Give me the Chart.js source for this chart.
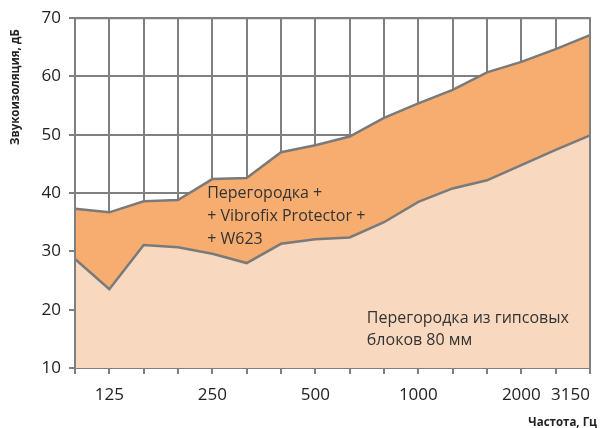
<!DOCTYPE html>
<html lang="ru">
<head>
<meta charset="utf-8">
<title>Звукоизоляция</title>
<script src="https://cdn.jsdelivr.net/npm/chart.js@4/dist/chart.umd.min.js"></script>
<style>
    html, body { margin: 0; padding: 0; background: #fff; }
    #wrap { width: 603px; height: 428px; position: relative; }
</style>
</head>
<body>
<div id="wrap"><canvas id="chart"></canvas></div>
<script>
// Data
const frequencies = ['100', '125', '160', '200', '250', '315', '400', '500', '630', '800', '1000', '1250', '1600', '2000', '2500', '3150'];
const shownLabels = ['125', '250', '500', '1000', '2000', '3150'];
const wallOnly = [28.7, 23.5, 31.1, 30.7, 29.6, 28.0, 31.3, 32.1, 32.4, 35.0, 38.5, 40.8, 42.2, 44.8, 47.4, 49.9];
const wallWithVibrofix = [37.3, 36.7, 38.6, 38.8, 42.4, 42.6, 47.0, 48.2, 49.7, 52.9, 55.4, 57.7, 60.7, 62.5, 64.7, 67.1];
const yTicks = [10, 20, 30, 40, 50, 60, 70];

const GRID = '#808080';
const FONT = '"Open Sans", "Noto Sans", sans-serif';

// Frame, axis titles and text labels inside the areas
const areaLabels = {
    id: 'areaLabels',
    afterDatasetsDraw(chart) {
        const { ctx, scales: { x, y } } = chart;
        const area = chart.chartArea;

        // frame over the fills
        ctx.save();
        ctx.strokeStyle = GRID;
        ctx.lineWidth = 2;
        ctx.beginPath();
        ctx.moveTo(area.left, area.bottom);
        ctx.lineTo(area.left, area.top);
        ctx.lineTo(area.right, area.top);
        ctx.lineTo(area.right, area.bottom);
        ctx.stroke();

        ctx.fillStyle = '#333';
        ctx.font = '16px ' + FONT;
        ctx.textBaseline = 'middle';
        ctx.textAlign = 'left';
        const x1 = x.getPixelForValue(3.85);
        ['Перегородка +', '+ Vibrofix Protector +', '+ W623'].forEach((line, i) => {
            ctx.fillText(line, x1, y.getPixelForValue(39.9) + i * 23);
        });
        const x2 = x.getPixelForValue(8.5);
        ['Перегородка из гипсовых', 'блоков 80 мм'].forEach((line, i) => {
            ctx.fillText(line, x2, y.getPixelForValue(18.5) + i * 22);
        });

        // axis titles
        ctx.fillStyle = '#222';
        ctx.font = 'bold 11.5px ' + FONT;
        ctx.textAlign = 'right';
        ctx.fillText('Частота, Гц', 597, 423);

        ctx.translate(16, 145);
        ctx.rotate(-Math.PI / 2);
        ctx.textAlign = 'left';
        ctx.fillText('Звукоизоляция, дБ', 0, 0);
        ctx.restore();
    }
};

const ctx = document.getElementById('chart').getContext('2d');
new Chart(ctx, {
    type: 'line',
    data: {
        labels: frequencies,
        datasets: [
            {
                label: 'Перегородка из гипсовых блоков 80 мм',
                data: wallOnly,
                borderColor: '#7a7a7a',
                borderWidth: 2.5,
                backgroundColor: '#f8d8be',
                fill: 'start',
                pointRadius: 0,
                tension: 0
            },
            {
                label: 'Перегородка + Vibrofix Protector + W623',
                data: wallWithVibrofix,
                borderColor: '#7a7a7a',
                borderWidth: 2.5,
                backgroundColor: '#f7ad70',
                fill: '-1',
                pointRadius: 0,
                tension: 0
            }
        ]
    },
    options: {
        responsive: true,
        maintainAspectRatio: false,
        animation: false,
        layout: { padding: { top: 18, right: 13, left: 0, bottom: 0 } },
        plugins: {
            legend: { display: false },
            tooltip: { enabled: false }
        },
        scales: {
            x: {
                offset: false,
                grid: { color: GRID, lineWidth: 2, tickLength: 6, tickColor: GRID },
                border: { color: GRID, width: 2 },
                ticks: {
                    autoSkip: false,
                    maxRotation: 0,
                    align: 'inner',
                    color: '#222',
                    padding: 11,
                    font: { family: FONT, size: 17 },
                    callback: function (value) {
                        const lab = frequencies[value];
                        return shownLabels.includes(lab) ? lab : '';
                    }
                },
                afterFit(scale) { scale.height = 60; }
            },
            y: {
                min: yTicks[0],
                max: yTicks[yTicks.length - 1],
                afterBuildTicks(scale) { scale.ticks = yTicks.map(v => ({ value: v })); },
                grid: { color: GRID, lineWidth: 2, tickLength: 6, tickColor: GRID },
                border: { color: GRID, width: 2 },
                ticks: {
                    color: '#222',
                    padding: 8,
                    font: { family: FONT, size: 17 }
                },
                afterFit(scale) { scale.width = 75; }
            }
        }
    },
    plugins: [areaLabels]
});
</script>
</body>
</html>
